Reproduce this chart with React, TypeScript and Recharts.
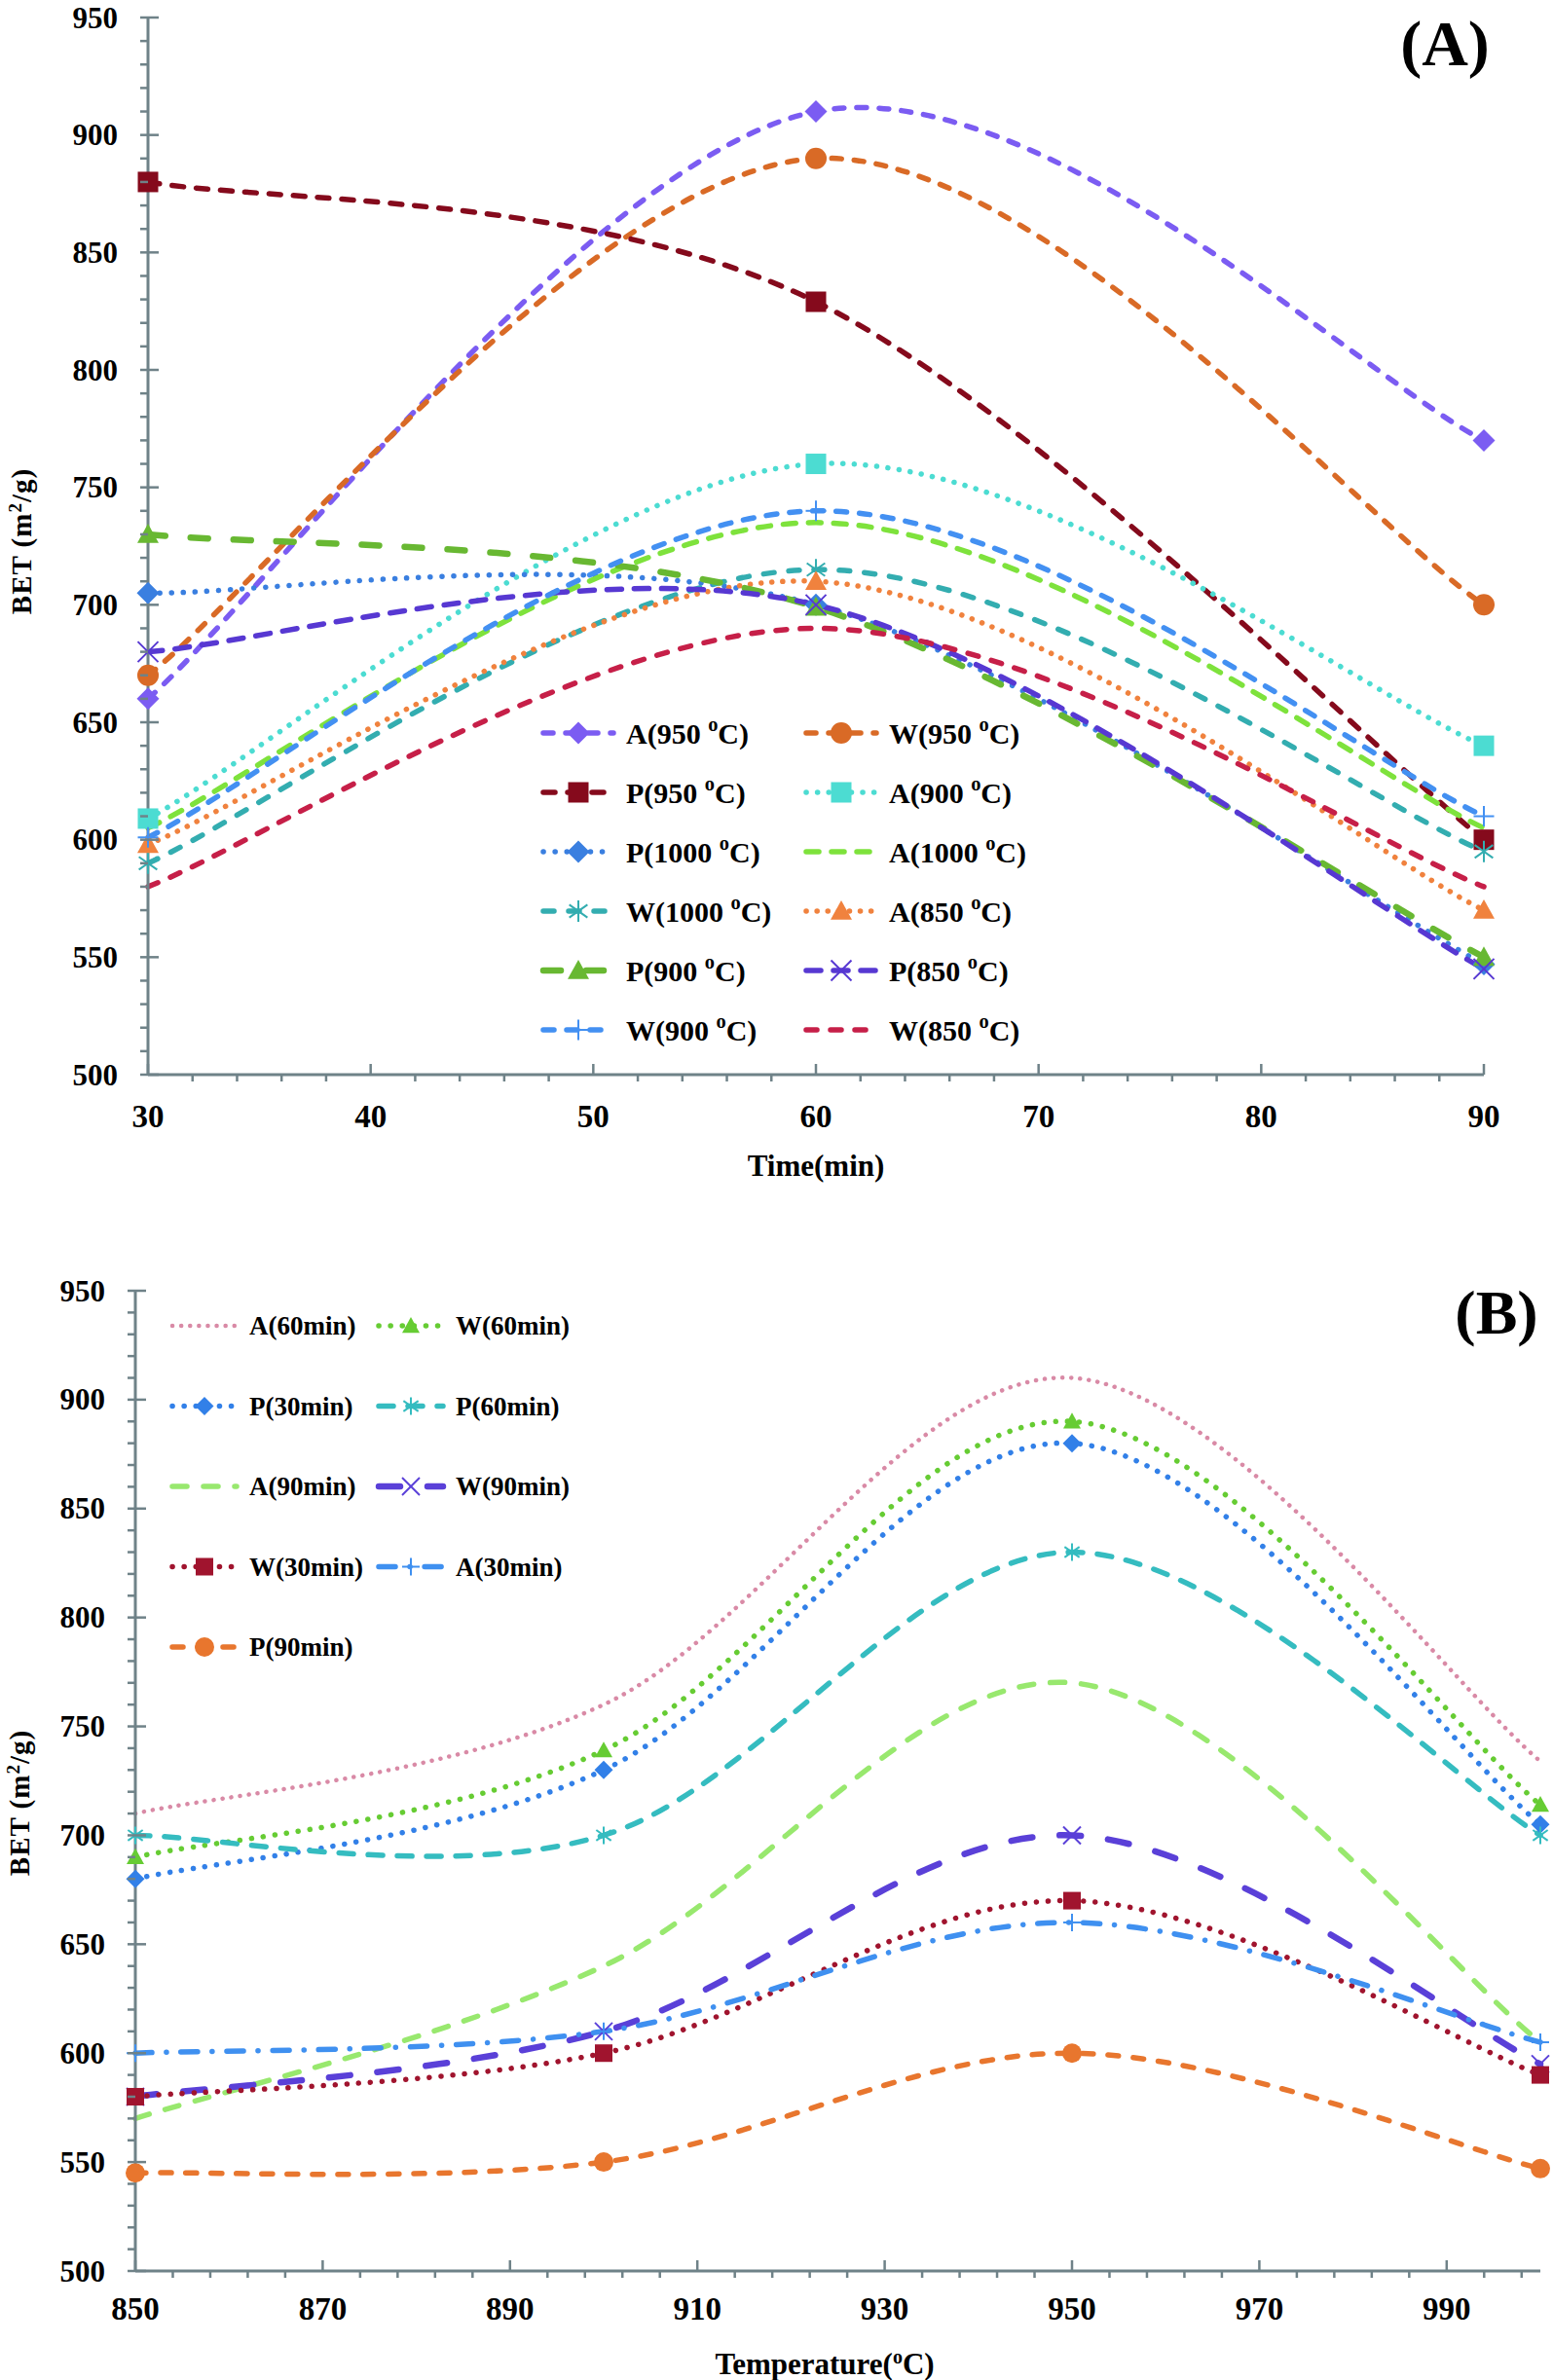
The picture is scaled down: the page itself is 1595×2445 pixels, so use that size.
import React from 'react';
import { LineChart, Line, XAxis, YAxis, Legend } from 'recharts';

// ---- data: panel A (BET vs time) ----
const timeMin = [30, 60, 90];
const a950 = [660, 910, 770];
const w950 = [670, 890, 700];
const p950 = [880, 829, 600];
const a900 = [609, 760, 640];
const p1000 = [705, 700, 547];
const a1000 = [605, 735, 605];
const w1000 = [590, 715, 595];
const a850 = [598, 710, 570];
const p900 = [730, 699, 550];
const p850 = [680, 700, 545];
const w900 = [601, 740, 610];
const w850 = [580, 690, 580];

// ---- data: panel B (BET vs temperature) ----
const tempC = [850, 900, 950, 1000];
const a60 = [710, 760, 910, 734];
const w60 = [690, 739, 890, 714];
const p30 = [680, 730, 880, 705];
const p60 = [700, 700, 830, 700];
const a90 = [570, 640, 770, 605];
const w90 = [580, 610, 700, 595];
const w30 = [580, 600, 670, 590];
const a30 = [600, 610, 660, 605];
const p90 = [545, 550, 600, 547];

const range = (from: number, to: number, step: number) => {
  const out: number[] = [];
  for (let v = from; v <= to + 1e-9; v += step) out.push(v);
  return out;
};

// major ticks carry labels, minor ticks are plain marks
const betTicks = range(500, 950, 10);
const timeTicks = range(30, 90, 2);
const tempTicks = range(850, 998, 4);

const FONT = '"Liberation Serif", "Times New Roman", serif';
const AXIS = '#6f8288';

type Shape = 'diamond' | 'circle' | 'square' | 'triangle' | 'asterisk' | 'cross' | 'plus' | 'none';

interface SeriesDef {
  key: string;
  name: string;
  values: number[];
  color: string;
  dash: string;
  width: number;
  marker: Shape;
  size: number;
}

const seriesA: SeriesDef[] = [
  { key: 'a950', name: 'A(950 °C)', values: a950, color: '#7b5cf2', dash: '10 13', width: 5.5, marker: 'diamond', size: 23 },
  { key: 'w950', name: 'W(950 °C)', values: w950, color: '#d96a26', dash: '10 13', width: 5.5, marker: 'circle', size: 22 },
  { key: 'p950', name: 'P(950 °C)', values: p950, color: '#850a1c', dash: '12 13', width: 5.5, marker: 'square', size: 21 },
  { key: 'a900', name: 'A(900 °C)', values: a900, color: '#4cdcd2', dash: '0.1 11.5', width: 5.5, marker: 'square', size: 21 },
  { key: 'p1000', name: 'P(1000 °C)', values: p1000, color: '#3a7fe0', dash: '0.1 12', width: 5.5, marker: 'diamond', size: 23 },
  { key: 'a1000', name: 'A(1000 °C)', values: a1000, color: '#7ee23c', dash: '13 13', width: 5.5, marker: 'none', size: 0 },
  { key: 'w1000', name: 'W(1000 °C)', values: w1000, color: '#33adb0', dash: '11 15', width: 5.5, marker: 'asterisk', size: 22 },
  { key: 'a850', name: 'A(850 °C)', values: a850, color: '#f0823e', dash: '0.1 11', width: 5.5, marker: 'triangle', size: 22 },
  { key: 'p900', name: 'P(900 °C)', values: p900, color: '#68b832', dash: '18 26', width: 6.5, marker: 'triangle', size: 22 },
  { key: 'p850', name: 'P(850 °C)', values: p850, color: '#5738d2', dash: '15 13', width: 5.5, marker: 'cross', size: 21 },
  { key: 'w900', name: 'W(900 °C)', values: w900, color: '#4390f2', dash: '11 13', width: 5.5, marker: 'plus', size: 21 },
  { key: 'w850', name: 'W(850 °C)', values: w850, color: '#c61f48', dash: '11 14', width: 5.5, marker: 'none', size: 0 },
];

const seriesB: SeriesDef[] = [
  { key: 'a60', name: 'A(60min)', values: a60, color: '#d98aa6', dash: '0.1 9', width: 4.5, marker: 'none', size: 0 },
  { key: 'w60', name: 'W(60min)', values: w60, color: '#66cc33', dash: '0.1 12', width: 5.5, marker: 'triangle', size: 18 },
  { key: 'p30', name: 'P(30min)', values: p30, color: '#3280e8', dash: '0.1 12', width: 5.5, marker: 'diamond', size: 19 },
  { key: 'p60', name: 'P(60min)', values: p60, color: '#35bcc0', dash: '15 15', width: 5.5, marker: 'asterisk', size: 18 },
  { key: 'a90', name: 'A(90min)', values: a90, color: '#98e86e', dash: '15 17', width: 5.5, marker: 'none', size: 0 },
  { key: 'w90', name: 'W(90min)', values: w90, color: '#5a40d8', dash: '22 28', width: 6.5, marker: 'cross', size: 18 },
  { key: 'w30', name: 'W(30min)', values: w30, color: '#a0142e', dash: '0.1 12', width: 5.5, marker: 'square', size: 18 },
  { key: 'a30', name: 'A(30min)', values: a30, color: '#3f90f0', dash: '17 15 0.1 15', width: 5.5, marker: 'plus', size: 18 },
  { key: 'p90', name: 'P(90min)', values: p90, color: '#e8762e', dash: '11 15', width: 5.5, marker: 'circle', size: 20 },
];

const rowsA = timeMin.map((t, i) => {
  const row: Record<string, number> = { t };
  seriesA.forEach((s) => (row[s.key] = s.values[i]));
  return row;
});

const rowsB = tempC.map((t, i) => {
  const row: Record<string, number> = { t };
  seriesB.forEach((s) => (row[s.key] = s.values[i]));
  return row;
});

// Excel-like smoothed line: cubic bezier with control points at 1/6 of neighbour span
function excelSmooth(context: any) {
  let pts: [number, number][] = [];
  return {
    areaStart() {},
    areaEnd() {},
    lineStart() {
      pts = [];
    },
    lineEnd() {
      const n = pts.length;
      if (!n) return;
      context.moveTo(pts[0][0], pts[0][1]);
      for (let i = 0; i < n - 1; i++) {
        const p0 = pts[Math.max(i - 1, 0)];
        const p1 = pts[i];
        const p2 = pts[i + 1];
        const p3 = pts[Math.min(i + 2, n - 1)];
        context.bezierCurveTo(
          p1[0] + (p2[0] - p0[0]) / 6,
          p1[1] + (p2[1] - p0[1]) / 6,
          p2[0] - (p3[0] - p1[0]) / 6,
          p2[1] - (p3[1] - p1[1]) / 6,
          p2[0],
          p2[1]
        );
      }
    },
    point(x: number, y: number) {
      pts.push([+x, +y]);
    },
  };
}

function Marker({ x, y, shape, color, size }: { x: number; y: number; shape: Shape; color: string; size: number }) {
  const h = size / 2;
  const sw = 2;
  switch (shape) {
    case 'diamond':
      return <path d={`M${x},${y - h}L${x + h},${y}L${x},${y + h}L${x - h},${y}Z`} fill={color} />;
    case 'circle':
      return <circle cx={x} cy={y} r={h} fill={color} />;
    case 'square':
      return <rect x={x - h} y={y - h} width={size} height={size} fill={color} />;
    case 'triangle':
      return <path d={`M${x},${y - h}L${x + h},${y + h * 0.8}L${x - h},${y + h * 0.8}Z`} fill={color} />;
    case 'asterisk':
      return (
        <g stroke={color} strokeWidth={sw}>
          <line x1={x} y1={y - h} x2={x} y2={y + h} />
          <line x1={x - h * 0.85} y1={y - h * 0.6} x2={x + h * 0.85} y2={y + h * 0.6} />
          <line x1={x - h * 0.85} y1={y + h * 0.6} x2={x + h * 0.85} y2={y - h * 0.6} />
        </g>
      );
    case 'cross':
      return (
        <g stroke={color} strokeWidth={sw}>
          <line x1={x - h} y1={y - h} x2={x + h} y2={y + h} />
          <line x1={x - h} y1={y + h} x2={x + h} y2={y - h} />
        </g>
      );
    case 'plus':
      return (
        <g stroke={color} strokeWidth={sw}>
          <line x1={x} y1={y - h} x2={x} y2={y + h} />
          <line x1={x - h} y1={y} x2={x + h} y2={y} />
        </g>
      );
    default:
      return null;
  }
}

function makeDot(s: SeriesDef) {
  if (s.marker === 'none') return false;
  return (p: any) => (
    <g key={`${s.key}-${p.index}`}>
      <Marker x={p.cx} y={p.cy} shape={s.marker} color={s.color} size={s.size} />
    </g>
  );
}

function YTick({ y, payload, axisX }: any) {
  const v = payload.value;
  const major = v % 50 === 0;
  return (
    <g>
      <line x1={axisX - 8} y1={y} x2={major ? axisX + 11 : axisX} y2={y} stroke={AXIS} strokeWidth={2.5} />
      {major && (
        <text x={axisX - 31} y={y + 10.5} textAnchor="end" fontFamily={FONT} fontWeight="bold" fontSize={31} fill="#000">
          {v}
        </text>
      )}
    </g>
  );
}

function XTick({ x, payload, axisY, base, every, baseline }: any) {
  const v = payload.value;
  const major = Math.abs((v - base) % every) < 1e-6;
  return (
    <g>
      <line x1={x} y1={major ? axisY - 11 : axisY} x2={x} y2={major ? axisY : axisY + 7} stroke={AXIS} strokeWidth={2.5} />
      {major && (
        <text x={x} y={baseline} textAnchor="middle" fontFamily={FONT} fontWeight="bold" fontSize={33} fill="#000">
          {v}
        </text>
      )}
    </g>
  );
}

function LegendLabel({ name, x, y, fontSize }: { name: string; x: number; y: number; fontSize: number }) {
  const i = name.indexOf('°');
  if (i < 0) {
    return (
      <text x={x} y={y} fontFamily={FONT} fontWeight="bold" fontSize={fontSize} fill="#000">
        {name}
      </text>
    );
  }
  return (
    <text x={x} y={y} fontFamily={FONT} fontWeight="bold" fontSize={fontSize} fill="#000">
      {name.slice(0, i)}
      <tspan dy={-13} fontSize={fontSize * 0.68}>
        o
      </tspan>
      <tspan dy={13}>{name.slice(i + 1)}</tspan>
    </text>
  );
}

function LegendPanel({ items, cols, rowGap, firstRow, lineW, textDx, fontSize, width, height }: any) {
  return (
    <svg width={width} height={height} style={{ overflow: 'visible', display: 'block' }}>
      {items.map((s: SeriesDef, i: number) => {
        const col = i % 2;
        const row = Math.floor(i / 2);
        const x0 = cols[col];
        const cy = firstRow + row * rowGap;
        return (
          <g key={s.key}>
            <line
              x1={x0}
              y1={cy}
              x2={x0 + lineW}
              y2={cy}
              stroke={s.color}
              strokeWidth={s.width}
              strokeDasharray={s.dash}
              strokeLinecap="round"
            />
            <Marker x={x0 + lineW / 2} y={cy} shape={s.marker} color={s.color} size={s.size} />
            <LegendLabel name={s.name} x={x0 + lineW + textDx} y={cy + fontSize * 0.35} fontSize={fontSize} />
          </g>
        );
      })}
    </svg>
  );
}

function BetLabel({ cx, cy }: { cx: number; cy: number }) {
  return (
    <text
      x={cx}
      y={cy}
      transform={`rotate(-90 ${cx} ${cy})`}
      textAnchor="middle"
      fontFamily={FONT}
      fontWeight="bold"
      fontSize={29}
      fill="#000"
      letterSpacing={1}
    >
      BET (m
      <tspan dy={-10} fontSize={19}>
        2
      </tspan>
      <tspan dy={10}>/g)</tspan>
    </text>
  );
}

const A_W = 1595;
const A_H = 1230;
const A_YW = 152;
const A_XH = 126;
const B_W = 1595;
const B_H = 1215;
const B_YW = 139;
const B_XH = 112;

export default function App() {
  return (
    <div style={{ position: 'relative', width: 1595, height: 2445, background: '#fff' }}>
      <style>{`body{margin:0;background:#fff}`}</style>

      <div style={{ position: 'absolute', left: 0, top: 0 }}>
        <LineChart width={A_W} height={A_H} data={rowsA} margin={{ top: 18, right: 71, left: 0, bottom: 0 }}>
          <XAxis
            dataKey="t"
            type="number"
            domain={[30, 90]}
            ticks={timeTicks}
            interval={0}
            height={A_XH}
            tickSize={0}
            tickMargin={0}
            stroke={AXIS}
            strokeWidth={3}
            tickLine={false}
            tick={<XTick axisY={A_H - A_XH} base={30} every={10} baseline={1158} />}
            label={{
              content: () => (
                <text x={838} y={1208} textAnchor="middle" fontFamily={FONT} fontWeight="bold" fontSize={31} fill="#000">
                  Time(min)
                </text>
              ),
            }}
          />
          <YAxis
            type="number"
            domain={[500, 950]}
            ticks={betTicks}
            interval={0}
            width={A_YW}
            tickSize={0}
            tickMargin={0}
            stroke={AXIS}
            strokeWidth={3}
            tickLine={false}
            tick={<YTick axisX={A_YW} />}
            label={{ content: () => <BetLabel cx={32} cy={556} /> }}
          />
          <Legend
            layout="horizontal"
            verticalAlign="middle"
            align="center"
            wrapperStyle={{ left: 550, top: 723, width: 640, height: 370 }}
            content={() => (
              <LegendPanel
                items={seriesA}
                cols={[8, 278]}
                rowGap={61}
                firstRow={30}
                lineW={72}
                textDx={13}
                fontSize={30}
                width={640}
                height={370}
              />
            )}
          />
          {seriesA.map((s) => (
            <Line
              key={s.key}
              dataKey={s.key}
              name={s.name}
              type={excelSmooth as any}
              stroke={s.color}
              strokeWidth={s.width}
              strokeDasharray={s.dash}
              strokeLinecap="round"
              dot={makeDot(s)}
              activeDot={false}
              isAnimationActive={false}
            />
          ))}
          <text x={1484} y={67} textAnchor="middle" fontFamily={FONT} fontWeight="bold" fontSize={66} fill="#000">
            (A)
          </text>
        </LineChart>
      </div>

      <div style={{ position: 'absolute', left: 0, top: 1230 }}>
        <LineChart width={B_W} height={B_H} data={rowsB} margin={{ top: 96, right: 13, left: 0, bottom: 0 }}>
          <XAxis
            dataKey="t"
            type="number"
            domain={[850, 1000]}
            ticks={tempTicks}
            interval={0}
            height={B_XH}
            tickSize={0}
            tickMargin={0}
            stroke={AXIS}
            strokeWidth={3}
            tickLine={false}
            tick={<XTick axisY={B_H - B_XH} base={850} every={20} baseline={1153} />}
            label={{
              content: () => (
                <text x={847} y={1209} textAnchor="middle" fontFamily={FONT} fontWeight="bold" fontSize={31} fill="#000">
                  Temperature(
                  <tspan dy={-11} fontSize={20}>
                    o
                  </tspan>
                  <tspan dy={11}>C)</tspan>
                </text>
              ),
            }}
          />
          <YAxis
            type="number"
            domain={[500, 950]}
            ticks={betTicks}
            interval={0}
            width={B_YW}
            tickSize={0}
            tickMargin={0}
            stroke={AXIS}
            strokeWidth={3}
            tickLine={false}
            tick={<YTick axisX={B_YW} />}
            label={{ content: () => <BetLabel cx={30} cy={622} /> }}
          />
          <Legend
            layout="horizontal"
            verticalAlign="middle"
            align="center"
            wrapperStyle={{ left: 170, top: 90, width: 560, height: 420 }}
            content={() => (
              <LegendPanel
                items={seriesB}
                cols={[7, 219]}
                rowGap={82.5}
                firstRow={42}
                lineW={66}
                textDx={13}
                fontSize={27}
                width={560}
                height={420}
              />
            )}
          />
          {seriesB.map((s) => (
            <Line
              key={s.key}
              dataKey={s.key}
              name={s.name}
              type={excelSmooth as any}
              stroke={s.color}
              strokeWidth={s.width}
              strokeDasharray={s.dash}
              strokeLinecap="round"
              dot={makeDot(s)}
              activeDot={false}
              isAnimationActive={false}
            />
          ))}
          <text x={1537} y={140} textAnchor="middle" fontFamily={FONT} fontWeight="bold" fontSize={64} fill="#000">
            (B)
          </text>
        </LineChart>
      </div>
    </div>
  );
}
